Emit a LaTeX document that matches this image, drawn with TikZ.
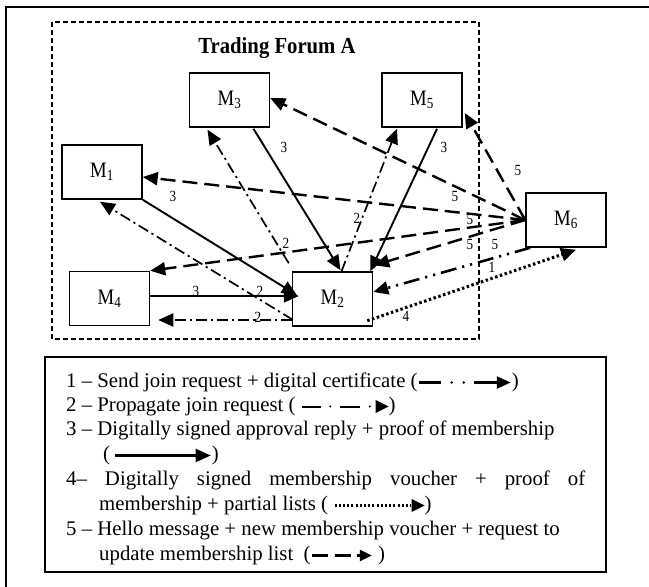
\documentclass[tikz,border=0pt]{standalone}
\usepackage{fontspec}
\setmainfont{Liberation Serif}
\newfontfamily\boxfont{Liberation Serif}[FakeStretch=0.85]
\newfontfamily\tagfont{Liberation Serif}[FakeStretch=0.85]
\newfontfamily\headfont{Liberation Serif}[FakeStretch=0.9]
\usetikzlibrary{arrows.meta,calc}

% small line samples used inside the key
\newcommand\keyjoin{\tikz[x=1pt,y=1pt,baseline=-4.5pt]{%
  \draw[line width=2.4pt] (0,0) -- (22,0);
  \fill (33,0) circle (1.4) (45,0) circle (1.4);
  \draw[line width=2.4pt,-{Triangle[length=14pt,width=12pt]}] (55,0) -- (92,0);}}
\newcommand\keyprop{\tikz[x=1pt,y=1pt,baseline=-4.5pt]{%
  \draw[line width=2pt] (0,0) -- (19,0) (38,0) -- (58,0);
  \fill (28.5,0) circle (1.2) (68,0) circle (1.2);
  \fill (74,6.5) -- (87,0) -- (74,-6.5) -- cycle;}}
\newcommand\keyreply{\tikz[x=1pt,y=1pt,baseline=-4.5pt]{%
  \draw[line width=2.2pt,-{Triangle[length=15pt,width=13pt]}] (0,0) -- (96,0);}}
\newcommand\keyvoucher{\tikz[x=1pt,y=1pt,baseline=-4.5pt]{%
  \draw[line width=2.6pt,dash pattern=on 2pt off 2.2pt] (0,0) -- (76,0);
  \fill (77,6.5) -- (90,0) -- (77,-6.5) -- cycle;}}
\newcommand\keyhello{\tikz[x=1pt,y=1pt,baseline=-4.5pt]{%
  \draw[line width=2.4pt] (0,0) -- (16,0) (23,0) -- (39,0);
  \draw[line width=2.4pt,-{Triangle[length=12pt,width=11pt]}] (45,0) -- (60,0);}}

\begin{document}
\begin{tikzpicture}[x=1pt,y=-1pt,
  member/.style={draw,line width=1.5pt,minimum width=80pt,minimum height=54pt,
    inner sep=0pt,font=\boxfont\fontsize{22}{26}\selectfont},
  headtip/.style={-{Triangle[length=15pt,width=13pt]}},
  msgjoin/.style={headtip,line width=2.6pt,
    dash pattern=on 16pt off 6pt on 2.2pt off 6pt on 2.2pt off 6pt},
  msgprop/.style={headtip,line width=1.7pt,
    dash pattern=on 11pt off 4pt on 2.2pt off 4pt},
  msgreply/.style={headtip,line width=1.9pt},
  msgvoucher/.style={headtip,line width=3pt,dash pattern=on 2.5pt off 2.5pt},
  msghello/.style={headtip,line width=2.4pt,dash pattern=on 15pt off 7pt},
  tag/.style={font=\tagfont\fontsize{15.5}{18}\selectfont,inner sep=0pt},
  keytext/.style={anchor=base west,inner sep=0pt,font=\fontsize{20.8}{24}\selectfont},
]
\useasboundingbox (0,0) rectangle (649,587);

% outer frame and forum boundary
\draw[line width=1.8pt] (6,590) -- (6,7) -- (652,7);
\draw[line width=1.4pt,dash pattern=on 5pt off 3pt] (52,22) rectangle (479,339);
\node[font=\headfont\bfseries\fontsize{23}{26}\selectfont,inner sep=0pt] (title) at (277,48) {Trading Forum A};

% members
\node[member] (M1) at (102,172) {M\textsubscript{1}};
\node[member] (M3) at (229.5,100) {M\textsubscript{3}};
\node[member] (M5) at (422,100) {M\textsubscript{5}};
\node[member] (M6) at (566,220) {M\textsubscript{6}};
\node[member] (M4) at (109.5,298.5) {M\textsubscript{4}};
\node[member] (M2) at (332.5,299) {M\textsubscript{2}};

% 5: hello messages sent out by M6
\draw[msghello] (M6.west) -- ($(M1.east)+(0,5)$);
\draw[msghello] (M6.west) -- ($(M3.east)+(0,-2)$);
\draw[msghello] (M6.west) -- (M4.north east);
\draw[msghello] (M6.west) -- ($(M2.north east)+(1,-6)$);
\draw[msghello] (M6.west) -- ($(M5.east)+(2,13)$);

% 3: signed approval replies to M2
\draw[msgreply] ($(M3.south)+(24,1)$) -- ($(M2.north)+(8,-1)$);
\draw[msgreply] ($(M5.south)+(15,1)$) -- ($(M2.north east)+(-3,0)$);
\draw[msgreply] (M1.south east) -- ($(M2.west)+(5,-4)$);
\draw[msgreply] ($(M4.east)+(0,-2.5)$) -- ($(M2.west)+(7,-3)$);

% 2: join request propagated by M2
\draw[msgprop] ($(M2.south west)+(1,-7)$) -- ($(M1.south)+(-2,2)$);
\draw[msgprop] ($(M2.north west)+(-3,-8)$) -- ($(M3.south)+(-22,2)$);
\draw[msgprop] ($(M2.west)+(0,21)$) -- ($(M4.east)+(8,21.5)$);
\draw[msgprop] ($(M2.north)+(9,0)$) -- ($(M5.south)+(-25,1)$);

% 1: join request from M6, 4: voucher back to M6
\draw[msgjoin] ($(M6.south west)+(5,0)$) -- ($(M2.east)+(0,-7)$);
\draw[msgvoucher] ($(M2.south east)+(-6,-6)$) -- ($(M6.south)+(10,2)$);

% message numbers
\node[tag] (t5a) at (455,196) {5};
\node[tag] (t5b) at (470,219) {5};
\node[tag] (t5c) at (470,244) {5};
\node[tag] (t5d) at (495,244) {5};
\node[tag] (t5e) at (518,170) {5};
\node[tag] (t3a) at (284,147) {3};
\node[tag] (t3b) at (444,147) {3};
\node[tag] (t3c) at (173,196) {3};
\node[tag] (t3d) at (196,291) {3};
\node[tag] (t2a) at (260,291) {2};
\node[tag] (t2b) at (286,243) {2};
\node[tag] (t2c) at (258,317) {2};
\node[tag] (t2d) at (357,218) {2};
\node[tag] (t1) at (492,267) {1};
\node[tag] (t4) at (406,316) {4};

% key
\draw[line width=1.6pt] (45,357) rectangle (606,572);
\node[keytext] (k1) at (66,387) {1 – Send join request + digital certificate (\keyjoin)};
\node[keytext] (k2) at (66,411) {2 – Propagate join request ( \keyprop)};
\node[keytext] (k3) at (66,435) {3 – Digitally signed approval reply + proof of membership};
\node[keytext] (k3b) at (103,460) {(\,\keyreply)};
\node[keytext] (k4) at (66,485) {\makebox[519pt][s]{4– Digitally signed membership voucher + proof of}};
\node[keytext] (k4b) at (99,510) {membership + partial lists ( \keyvoucher)};
\node[keytext] (k5) at (66,535) {5 – Hello message + new membership voucher + request to};
\node[keytext] (k5b) at (99,560) {update membership list \ (\keyhello\ )};
\end{tikzpicture}
\end{document}
